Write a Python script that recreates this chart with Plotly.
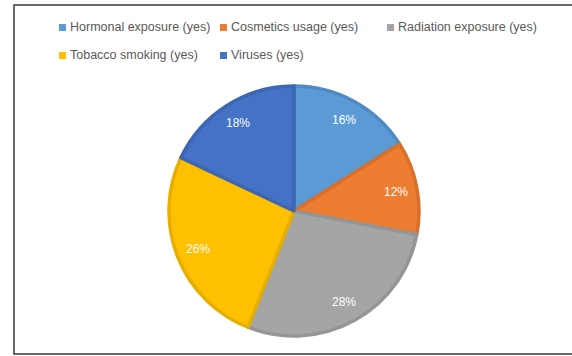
import math
import plotly.graph_objects as go

# Share of respondents reporting each risk factor
labels = ["Hormonal exposure (yes)", "Cosmetics usage (yes)", "Radiation exposure (yes)",
          "Tobacco smoking (yes)", "Viruses (yes)"]
values = [16, 12, 28, 26, 18]

fill_colors = ["#5B9BD5", "#ED7D31", "#A5A5A5", "#FFC000", "#4472C4"]
edge_colors = ["#4E8AC3", "#D8702A", "#959595", "#E6AE00", "#3C66B3"]

W, H = 572, 356
ML, MR, MT, MB = 169, 153, 86, 20
PW, PH = W - ML - MR, H - MT - MB


def px_x(px):
    return (px - ML) / PW


def px_y(py):
    return (H - MB - py) / PH


fig = go.Figure(go.Pie(
    labels=labels,
    values=values,
    sort=False,
    direction="clockwise",
    rotation=0,
    textinfo="none",
    hoverinfo="label+percent",
    marker=dict(colors=fill_colors, line=dict(color=edge_colors, width=3.5)),
    domain=dict(x=[0, 1], y=[0, 1]),
))

# Percentage labels placed near the outer edge of each slice
total = sum(values)
annotations = []
start = 0.0
for v in values:
    mid = (start + v / 2) / total * 2 * math.pi
    start += v
    f = 0.83
    annotations.append(dict(
        x=0.5 + 0.5 * f * math.sin(mid),
        y=0.5 + 0.5 * f * math.cos(mid),
        xref="paper", yref="paper",
        text=f"{round(v / total * 100)}%",
        showarrow=False,
        font=dict(family="Liberation Sans", size=12, color="white"),
        xanchor="center", yanchor="middle",
    ))

# Legend laid out as a three-column grid with small square swatches
col_x = [59, 220, 387]
row_y = [27, 55]
shapes = []
for i, (lab, col) in enumerate(zip(labels, fill_colors)):
    cx = col_x[i % 3]
    cy = row_y[i // 3]
    shapes.append(dict(
        type="rect", xref="paper", yref="paper",
        x0=px_x(cx), x1=px_x(cx + 7), y0=px_y(cy + 4), y1=px_y(cy - 3),
        fillcolor=col, line=dict(width=0),
    ))
    annotations.append(dict(
        x=px_x(cx + 9), y=px_y(cy),
        xref="paper", yref="paper",
        text=lab, showarrow=False,
        xanchor="left", yanchor="middle",
        font=dict(family="Liberation Sans", size=12.5, color="#595959"),
    ))

# Chart frame
shapes.append(dict(
    type="rect", xref="paper", yref="paper",
    x0=px_x(14), x1=px_x(600), y0=px_y(354), y1=px_y(5),
    line=dict(color="#3a3a3a", width=1.5),
    fillcolor="rgba(0,0,0,0)",
    layer="below",
))

fig.update_layout(
    width=W, height=H,
    margin=dict(l=ML, r=MR, t=MT, b=MB),
    paper_bgcolor="white",
    plot_bgcolor="white",
    showlegend=False,
    annotations=annotations,
    shapes=shapes,
)

fig.write_html("out.html")
